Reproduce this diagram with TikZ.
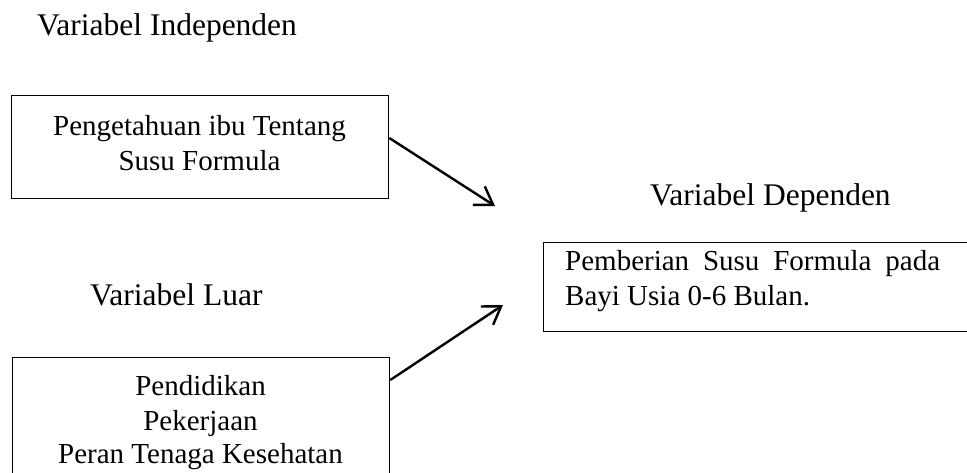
\documentclass[tikz,border=0pt]{standalone}
\usepackage{fontspec}
\setmainfont{Liberation Serif}
\usetikzlibrary{arrows.meta}
\tikzset{
  head/.style={anchor=base west, inner sep=0pt, font=\fontsize{31.5}{35}\selectfont},
  boxtxt/.style={anchor=base, inner sep=0pt, font=\fontsize{29}{35}\selectfont},
  box/.style={draw, line width=1.3pt, inner sep=0pt, anchor=north west},
  conn/.style={line width=2.4pt, -{Straight Barb[length=17pt, width=22pt, line width=2.4pt]}}
}
\begin{document}
\begin{tikzpicture}[x=1pt, y=-1pt]
\useasboundingbox (0,0) rectangle (967,472);
\clip (0,0) rectangle (967,472);
% headings
\node[head] (hind) at (37,35) {Variabel Independen};
\node[head] (hdep) at (650,205) {Variabel Dependen};
\node[head] (hluar) at (90,305) {Variabel Luar};
% box 1
\node[box, minimum width=377pt, minimum height=103pt] (b1) at (11,95) {};
\node[boxtxt] (b1a) at (199.5,135) {Pengetahuan ibu Tentang};
\node[boxtxt] (b1b) at (199.5,170) {Susu Formula};
% box 2
\node[box, minimum width=377pt, minimum height=140pt] (b2) at (12,357) {};
\node[boxtxt] (b2a) at (200.5,395) {Pendidikan};
\node[boxtxt] (b2b) at (200.5,430) {Pekerjaan};
\node[boxtxt] (b2c) at (200.5,463) {Peran Tenaga Kesehatan};
% box 3
\node[box, minimum width=450pt, minimum height=89pt] (b3) at (543,242) {};
\node[boxtxt, anchor=base west] (b3a) at (565,270) {\hbox to 375pt{Pemberian\hfill Susu\hfill Formula\hfill pada}};
\node[boxtxt, anchor=base west] (b3b) at (565,305) {Bayi Usia 0-6 Bulan.};
% arrows
\coordinate (t1) at (495,206);
\coordinate (t2) at (503,305);
\draw[conn] ([yshift=-43pt]b1.north east) -- (t1);
\draw[conn] ([yshift=-23pt]b2.north east) -- (t2);
\end{tikzpicture}
\end{document}
